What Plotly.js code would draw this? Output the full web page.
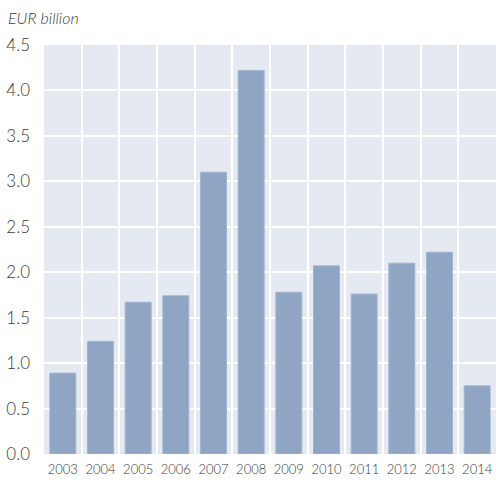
<!DOCTYPE html>
<html>
<head>
<meta charset="utf-8">
<script src="https://cdn.plot.ly/plotly-3.0.1.min.js"></script>
<style>
  body { margin: 0; padding: 0; background: #fff; }
  #chart { width: 496px; height: 488px; }
</style>
</head>
<body>
<div id="chart"></div>
<script>
  var years = ["2003", "2004", "2005", "2006", "2007", "2008", "2009", "2010", "2011", "2012", "2013", "2014"];
  var values = [0.89, 1.24, 1.67, 1.74, 3.10, 4.22, 1.78, 2.07, 1.76, 2.10, 2.22, 0.75];
  var yTicks = [0, 0.5, 1, 1.5, 2, 2.5, 3, 3.5, 4, 4.5];

  var trace = {
    type: "bar",
    x: years,
    y: values,
    marker: {
      color: "#8fa5c3",
      line: { color: "#a3b5cf", width: 1 }
    },
    hoverinfo: "x+y"
  };

  var layout = {
    width: 496,
    height: 488,
    margin: { l: 44, r: 0, t: 45, b: 34, pad: 0 },
    paper_bgcolor: "#ffffff",
    plot_bgcolor: "#e5e9f1",
    bargap: 0.31,
    showlegend: false,
    font: { family: "Lato, sans-serif", color: "#3a3a3a", weight: 300 },
    xaxis: {
      type: "category",
      tickson: "boundaries",
      tickangle: 0,
      showgrid: true,
      gridcolor: "#ffffff",
      gridwidth: 2,
      ticks: "",
      ticklen: 0,
      ticklabelstandoff: 6,
      zeroline: false,
      showline: false,
      tickfont: { size: 13, family: "Lato, sans-serif", color: "#3a3a3a", weight: 300 },
      fixedrange: true
    },
    yaxis: {
      range: [0, 4.5],
      tickvals: yTicks,
      ticktext: yTicks.map(function(v) { return v.toFixed(1); }),
      showgrid: true,
      gridcolor: "#ffffff",
      gridwidth: 2,
      zeroline: false,
      showline: false,
      ticks: "",
      ticklabelstandoff: 13,
      tickfont: { size: 17, family: "Lato, sans-serif", color: "#3a3a3a", weight: 300 },
      fixedrange: true
    },
    annotations: [
      {
        text: "<i>EUR billion</i>",
        xref: "paper",
        yref: "paper",
        x: -38 / 452,
        y: 1,
        xanchor: "left",
        yanchor: "bottom",
        yshift: 16,
        showarrow: false,
        font: { size: 16, family: "Lato, sans-serif", color: "#3a3a3a", weight: 300 }
      }
    ]
  };

  Plotly.newPlot("chart", [trace], layout, { displayModeBar: false, staticPlot: true });
</script>
</body>
</html>
